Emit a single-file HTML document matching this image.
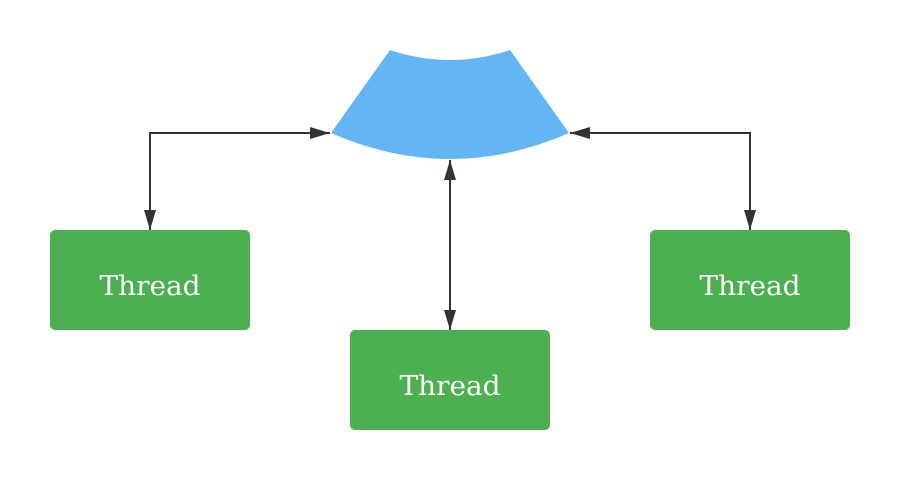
<!DOCTYPE html>
<html><head><style>body{margin:0;background:#fff}</style></head><body>
<svg width="900" height="480" xmlns="http://www.w3.org/2000/svg">
<defs><marker id="b" viewBox="0 0 20 12" refX="20" refY="6" markerWidth="20" markerHeight="12" markerUnits="userSpaceOnUse" orient="auto-start-reverse"><path d="M0,0 L20,6 L0,12 z" fill="#333"/></marker></defs>
<path d="M390,50 Q450,70 510,50 L569,133 Q450,185 331,133 Z" fill="#64b5f6"/>
<g stroke="#333" stroke-width="2" fill="none">
<path d="M150,230 L150,133 L330,133" marker-start="url(#b)" marker-end="url(#b)"/>
<path d="M750,230 L750,133 L570,133" marker-start="url(#b)" marker-end="url(#b)"/>
<path d="M450,330 L450,160" marker-start="url(#b)" marker-end="url(#b)"/>
</g>
<g fill="#4caf50"><rect x="50" y="230" width="200" height="100" rx="5"/><rect x="650" y="230" width="200" height="100" rx="5"/><rect x="350" y="330" width="200" height="100" rx="5"/></g>
<g fill="#fff" font-family="DejaVu Serif, serif" font-size="27" text-anchor="middle">
<text x="150" y="295" textLength="101" lengthAdjust="spacingAndGlyphs">Thread</text><text x="750" y="295" textLength="101" lengthAdjust="spacingAndGlyphs">Thread</text><text x="450" y="395" textLength="101" lengthAdjust="spacingAndGlyphs">Thread</text></g>
</svg></body></html>
